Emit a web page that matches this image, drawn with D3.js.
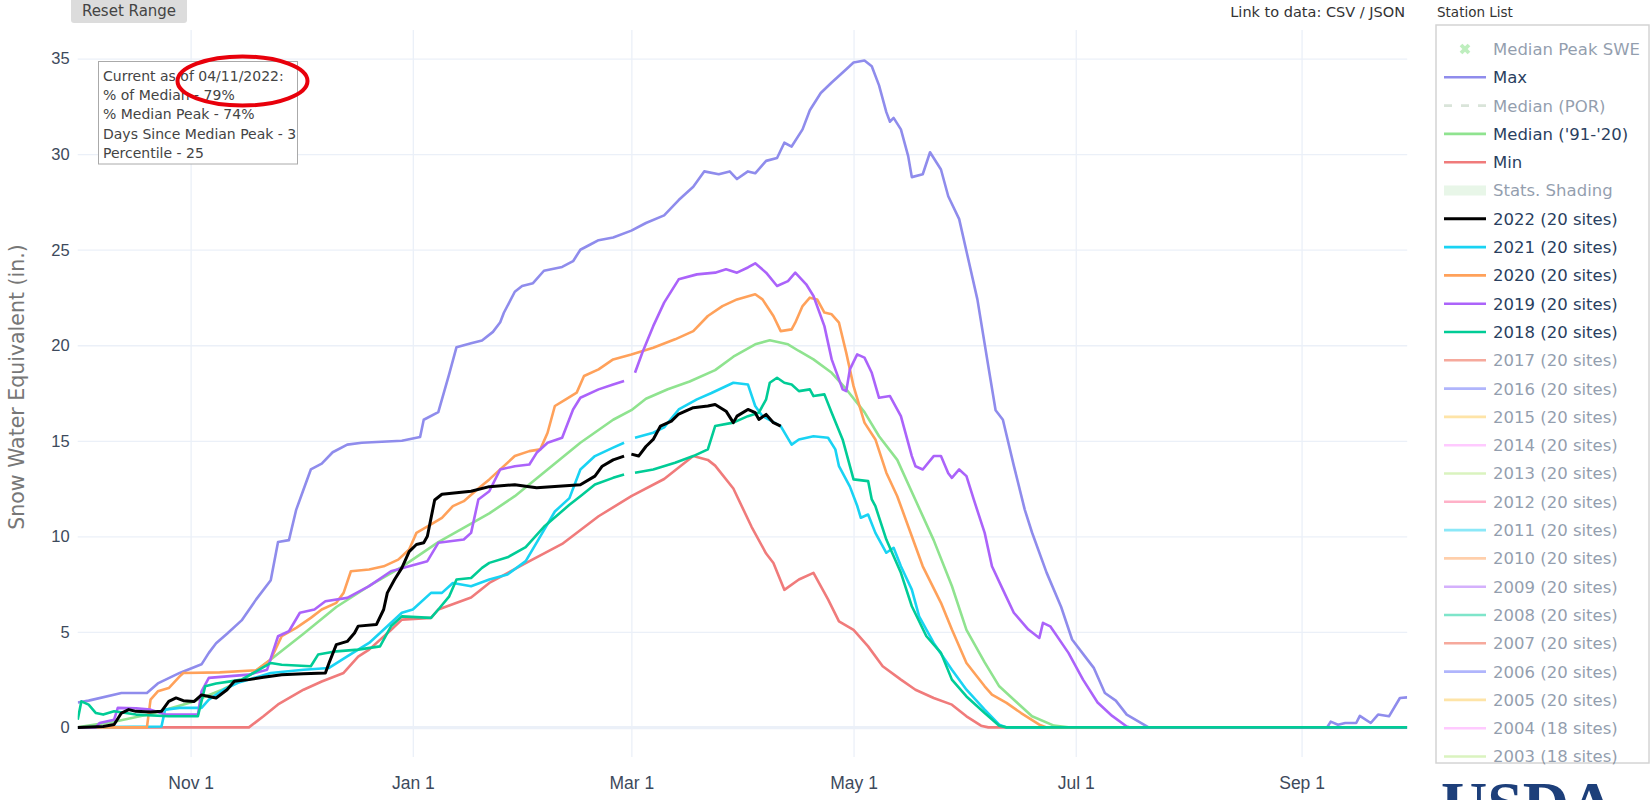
<!DOCTYPE html>
<html>
<head>
<meta charset="utf-8">
<script src="https://cdn.jsdelivr.net/npm/d3@7"></script>
<style>
  body { margin: 0; background: #fff; }
  svg { display: block; font-family: "DejaVu Sans", Verdana, sans-serif; }
</style>
</head>
<body>
<svg id="chart" width="1651" height="800"></svg>
<script>
// SWE (in.), generic water year Oct 1 - Sep 30 (axis has Feb 29)
const maxSwe = [["10-01",1.3],["10-04",1.4],["10-13",1.8],["10-20",1.8],["10-23",2.3],["10-29",2.85],["11-04",3.3],["11-06",3.9],["11-08",4.4],["11-11",4.9],["11-15",5.6],["11-19",6.7],["11-23",7.7],["11-25",9.7],["11-28",9.8],["11-30",11.4],["12-02",12.45],["12-04",13.5],["12-07",13.8],["12-10",14.4],["12-14",14.8],["12-18",14.9],["12-29",15.0],["01-03",15.2],["01-04",16.1],["01-08",16.5],["01-11",18.5],["01-13",19.9],["01-17",20.1],["01-20",20.25],["01-23",20.7],["01-25",21.2],["01-26",21.7],["01-29",22.8],["01-31",23.1],["02-03",23.25],["02-06",23.9],["02-11",24.1],["02-14",24.4],["02-16",25.0],["02-19",25.3],["02-21",25.5],["02-25",25.64],["03-01",26.0],["03-05",26.4],["03-10",26.8],["03-14",27.6],["03-18",28.3],["03-21",29.1],["03-25",28.95],["03-28",29.1],["03-30",28.7],["04-02",29.1],["04-04",29.0],["04-07",29.65],["04-10",29.8],["04-12",30.6],["04-14",30.4],["04-17",31.3],["04-19",32.3],["04-22",33.2],["04-25",33.75],["04-29",34.45],["05-01",34.8],["05-04",34.9],["05-06",34.6],["05-08",33.6],["05-10",32.2],["05-11",31.7],["05-12",31.9],["05-14",31.3],["05-16",29.9],["05-17",28.8],["05-20",28.95],["05-22",30.1],["05-25",29.2],["05-27",27.8],["05-30",26.6],["06-04",22.4],["06-07",18.9],["06-09",16.6],["06-11",16.1],["06-14",13.7],["06-17",11.4],["06-19",10.2],["06-23",8.1],["06-27",6.3],["06-30",4.6],["07-04",3.6],["07-06",3.1],["07-09",1.8],["07-12",1.4],["07-15",0.67],["07-21",0],["09-08",0],["09-09",0.3],["09-11",0.14],["09-13",0.23],["09-16",0.23],["09-17",0.6],["09-20",0.23],["09-22",0.67],["09-25",0.58],["09-28",1.54],["09-30",1.57]]

const medianSwe = [["10-01",0],["10-11",0.3],["10-21",0.7],["11-01",1.3],["11-10",2.0],["11-17",2.7],["11-23",3.55],["12-02",4.9],["12-11",6.3],["12-20",7.4],["12-29",8.4],["01-08",9.7],["01-22",11.2],["01-29",12.1],["02-07",13.5],["02-16",14.9],["02-25",16.1],["03-01",16.6],["03-05",17.2],["03-11",17.7],["03-17",18.1],["03-24",18.7],["03-29",19.4],["04-04",20.05],["04-08",20.26],["04-13",20.05],["04-16",19.7],["04-20",19.26],["04-25",18.56],["04-29",17.7],["05-04",16.5],["05-08",15.24],["05-13",14.0],["05-18",11.9],["05-23",9.8],["05-28",7.4],["06-01",5.1],["06-06",3.4],["06-10",2.15],["06-15",1.28],["06-19",0.58],["06-25",0.09],["06-29",0],["09-30",0]]

const minSwe = [["10-01",0],["11-17",0],["11-21",0.58],["11-25",1.2],["12-02",1.97],["12-07",2.4],["12-13",2.85],["12-17",3.7],["12-20",4.07],["12-26",5.1],["12-29",5.64],["01-06",5.73],["01-08",6.17],["01-17",6.8],["01-22",7.56],["02-01",8.6],["02-11",9.6],["02-21",11.05],["03-01",12.1],["03-10",13.0],["03-18",14.2],["03-22",14.0],["03-24",13.7],["03-29",12.5],["04-03",10.5],["04-07",9.1],["04-09",8.6],["04-12",7.2],["04-16",7.74],["04-20",8.09],["04-24",6.7],["04-27",5.55],["05-01",5.1],["05-05",4.24],["05-09",3.2],["05-14",2.5],["05-18",1.97],["05-23",1.54],["05-28",1.19],["06-01",0.58],["06-05",0.09],["06-07",0],["09-30",0]]

const wy2022 = [["10-01",0],["10-08",0.05],["10-11",0.15],["10-13",0.75],["10-15",0.93],["10-17",0.84],["10-21",0.8],["10-24",0.84],["10-26",1.36],["10-28",1.54],["10-30",1.4],["11-02",1.36],["11-04",1.7],["11-06",1.62],["11-08",1.54],["11-11",1.97],["11-13",2.41],["11-17",2.5],["11-21",2.62],["11-26",2.76],["12-02",2.81],["12-08",2.85],["12-09",3.37],["12-11",4.33],["12-14",4.5],["12-16",4.94],["12-17",5.3],["12-22",5.38],["12-24",6.17],["12-25",7.04],["12-27",7.74],["12-29",8.35],["12-31",9.2],["01-02",9.57],["01-04",9.66],["01-05",10.0],["01-07",11.9],["01-09",12.2],["01-17",12.36],["01-22",12.6],["01-29",12.7],["02-04",12.54],["02-16",12.7],["02-20",13.15],["02-22",13.67],["02-25",14.0],["02-28",14.2],["02-29",null],["03-01",14.3],["03-03",14.2],["03-05",14.7],["03-07",15.07],["03-09",15.77],["03-12",16.03],["03-14",16.4],["03-18",16.73],["03-22",16.82],["03-24",16.9],["03-27",16.55],["03-29",15.95],["03-30",16.29],["04-02",16.64],["04-04",16.47],["04-05",16.12],["04-07",16.38],["04-09",15.95],["04-11",15.77]]

const wy2021 = [["10-01",0],["10-24",0.05],["10-25",0.93],["10-29",1.02],["11-04",1.02],["11-06",1.45],["11-10",1.97],["11-14",2.33],["11-17",2.5],["11-23",2.85],["12-02",3.02],["12-09",3.11],["12-14",3.72],["12-20",4.42],["12-25",5.29],["12-29",6.0],["01-01",6.17],["01-06",7.04],["01-09",7.04],["01-12",7.56],["01-17",7.39],["01-22",7.74],["01-27",8.0],["02-01",8.7],["02-05",10.0],["02-09",11.3],["02-13",12.0],["02-16",13.5],["02-20",14.2],["02-25",14.64],["02-28",14.9],["02-29",null],["03-02",15.16],["03-07",15.42],["03-10",15.7],["03-14",16.64],["03-19",17.17],["03-23",17.5],["03-29",18.04],["04-02",17.95],["04-04",16.82],["04-06",16.29],["04-11",15.77],["04-14",14.8],["04-16",15.07],["04-20",15.24],["04-24",15.16],["04-26",14.55],["04-27",13.67],["04-30",12.6],["05-02",11.6],["05-03",10.97],["05-05",11.14],["05-07",10.18],["05-10",9.14],["05-12",9.4],["05-14",8.43],["05-17",7.21],["05-19",5.81],["05-23",4.42],["05-28",3.02],["06-01",1.97],["06-06",0.93],["06-10",0.14],["06-12",0],["09-30",0]]

const wy2020 = [["10-01",0],["10-20",0],["10-21",1.45],["10-23",1.89],["10-26",2.06],["10-29",2.67],["10-30",2.85],["11-09",2.88],["11-19",2.99],["11-23",3.55],["11-26",4.77],["11-30",5.21],["12-04",5.73],["12-07",6.17],["12-11",6.52],["12-13",7.04],["12-15",8.17],["12-20",8.26],["12-24",8.43],["12-28",8.78],["12-31",9.31],["01-02",10.18],["01-06",10.62],["01-09",10.97],["01-12",11.58],["01-15",11.84],["01-19",12.5],["01-22",12.98],["01-29",14.2],["02-02",14.46],["02-05",14.55],["02-07",15.42],["02-09",16.82],["02-12",17.17],["02-15",17.52],["02-17",18.39],["02-21",18.74],["02-25",19.26],["03-01",19.52],["03-07",19.87],["03-13",20.31],["03-18",20.74],["03-22",21.53],["03-26",22.05],["03-30",22.4],["04-04",22.67],["04-06",22.4],["04-09",21.53],["04-11",20.74],["04-14",20.83],["04-15",21.18],["04-17",22.05],["04-19",22.49],["04-21",22.4],["04-23",21.71],["04-25",21.62],["04-27",21.18],["04-29",19.6],["05-01",17.86],["05-04",15.95],["05-07",15.07],["05-10",13.33],["05-13",12.1],["05-16",10.53],["05-20",8.43],["05-25",6.52],["05-28",5.12],["06-01",3.37],["06-06",2.15],["06-08",1.71],["06-12",1.28],["06-16",0.75],["06-21",0.14],["06-23",0],["09-30",0]]

const wy2019 = [["10-01",0],["10-06",0],["10-07",0.23],["10-11",0.4],["10-12",1.02],["10-17",1.0],["10-21",0.93],["10-25",0.67],["11-03",0.67],["11-04",1.89],["11-06",2.59],["11-11",2.67],["11-17",2.76],["11-22",3.02],["11-25",4.77],["11-28",5.03],["12-01",6.0],["12-05",6.17],["12-08",6.6],["12-14",6.78],["12-20",7.39],["12-26",8.17],["12-31",8.43],["01-05",8.7],["01-08",9.66],["01-15",9.83],["01-17",10.18],["01-19",11.93],["01-22",12.36],["01-25",13.5],["01-29",13.67],["02-02",13.76],["02-04",14.37],["02-07",14.9],["02-11",15.16],["02-14",16.64],["02-16",17.25],["02-21",17.69],["02-25",17.95],["02-28",18.13],["02-29",null],["03-02",18.56],["03-04",19.61],["03-07",21.0],["03-10",22.23],["03-14",23.45],["03-19",23.71],["03-24",23.8],["03-27",23.98],["03-30",23.8],["04-02",24.07],["04-04",24.29],["04-07",23.8],["04-10",23.1],["04-13",23.36],["04-15",23.8],["04-18",23.19],["04-20",22.58],["04-23",21.0],["04-25",19.26],["04-28",17.69],["04-29",17.6],["04-30",18.74],["05-02",19.52],["05-04",19.35],["05-06",18.56],["05-08",17.25],["05-11",17.34],["05-14",16.29],["05-17",14.2],["05-18",13.67],["05-20",13.5],["05-23",14.2],["05-25",14.2],["05-27",13.3],["05-28",13.06],["05-30",13.5],["06-01",13.15],["06-03",11.93],["06-06",10.18],["06-08",8.43],["06-11",7.21],["06-14",6.0],["06-18",5.12],["06-21",4.68],["06-22",5.47],["06-24",5.29],["06-29",3.9],["07-03",2.5],["07-07",1.3],["07-11",0.6],["07-15",0.05],["07-16",0],["09-30",0]]

const wy2018 = [["10-01",0.4],["10-02",1.36],["10-04",1.19],["10-06",0.75],["10-08",0.67],["10-11",0.84],["10-17",0.67],["10-26",0.58],["11-03",0.58],["11-05",2.15],["11-08",2.3],["11-12",2.41],["11-15",2.5],["11-19",2.93],["11-23",3.37],["11-26",3.28],["12-04",3.2],["12-06",3.81],["12-11",3.98],["12-17",4.07],["12-23",4.24],["12-26",5.29],["12-29",5.81],["01-06",5.73],["01-08",6.17],["01-11",6.86],["01-13",7.74],["01-17",7.82],["01-20",8.35],["01-22",8.61],["01-27",8.9],["02-01",9.44],["02-06",10.5],["02-13",11.65],["02-16",12.1],["02-20",12.71],["02-25",13.06],["02-28",13.24],["02-29",null],["03-02",13.33],["03-07",13.5],["03-13",13.85],["03-18",14.2],["03-22",14.55],["03-24",15.77],["03-29",15.95],["04-02",16.29],["04-05",16.47],["04-07",17.17],["04-08",18.04],["04-10",18.3],["04-12",18.04],["04-14",17.95],["04-16",17.6],["04-19",17.69],["04-20",17.34],["04-23",17.43],["04-25",16.47],["04-28",15.07],["05-01",12.98],["05-05",12.89],["05-06",11.93],["05-07",11.58],["05-10",9.83],["05-14",8.09],["05-17",6.34],["05-21",4.77],["05-25",3.9],["05-28",2.5],["06-01",1.62],["06-06",0.75],["06-10",0.09],["06-12",0],["09-30",0]]

const yTicks = [0, 5, 10, 15, 20, 25, 30, 35]

const infoLines = ["Current as of 04/11/2022:", "% of Median - 79%", "% Median Peak - 74%", "Days Since Median Peak - 3", "Percentile - 25"]

const legendStats = ["Median Peak SWE", "Max", "Median (POR)", "Median ('91-'20)", "Min", "Stats. Shading"]
const legendYears = [2022, 2021, 2020, 2019, 2018, 2017, 2016, 2015, 2014, 2013, 2012, 2011, 2010, 2009, 2008, 2007, 2006, 2005, 2004, 2003]
const siteCounts = [20, 20, 20, 20, 20, 20, 20, 20, 20, 20, 20, 20, 20, 20, 20, 20, 20, 20, 18, 18]
const shownYears = [2022, 2021, 2020, 2019, 2018]

// styles
const colorway = ['#636efa', '#EF553B', '#00cc96', '#ab63fa', '#FFA15A', '#19d3f3', '#FF6692', '#B6E880', '#FF97FF', '#FECB52']
const yearColor = (yr) => yr == 2022 ? '#000' : colorway[(yr - 2006 + 100) % 10]
const statColor = { 'Max': '#8f8cec', "Median ('91-'20)": '#8fe38f', 'Min': '#f07b7b' }

const svg = d3.select('#chart')
const plot = { left: 77.7, right: 1407.2, top: 30, bottom: 757 }

const parseDay = (md) => d3.utcParse('%Y-%m-%d')((+md.slice(0, 2) >= 10 ? '1999-' : '2000-') + md)

const x = d3.scaleUtc()
  .domain([parseDay('10-01'), parseDay('09-30')])
  .range([plot.left, plot.right])
const y = d3.scaleLinear()
  .domain([-1.55, 36.5])
  .range([plot.bottom, plot.top])

const tickColor = '#3d4a5c'

// y grid + labels
const yAxis = svg.append('g')
  .attr('transform', `translate(${plot.left},0)`)
  .call(d3.axisLeft(y).tickValues(yTicks).tickSize(-(plot.right - plot.left)).tickPadding(8))
yAxis.select('.domain').remove()
yAxis.selectAll('.tick line')
  .attr('stroke', '#EBF0F8')
  .attr('stroke-width', (d) => d == 0 ? 2.6 : 1.3)
yAxis.selectAll('.tick text')
  .attr('fill', tickColor)
  .style('font-size', '16.5px')

// x grid + labels
const xAxis = svg.append('g')
  .attr('transform', `translate(0,${plot.bottom})`)
  .call(d3.axisBottom(x)
    .ticks(d3.utcMonth.every(2))
    .tickFormat(d3.utcFormat('%b %-d'))
    .tickSize(-(plot.bottom - plot.top))
    .tickPadding(20))
xAxis.select('.domain').remove()
xAxis.selectAll('.tick line').attr('stroke', '#EBF0F8').attr('stroke-width', 1.3)
xAxis.selectAll('.tick text')
  .attr('fill', tickColor)
  .style('font-size', '17.5px')

// redraw zero line above vertical grid
svg.append('line')
  .attr('x1', plot.left).attr('x2', plot.right)
  .attr('y1', y(0)).attr('y2', y(0))
  .attr('stroke', '#EBF0F8').attr('stroke-width', 2.6)

svg.append('text')
  .attr('transform', `translate(24,${(y(0) + y(35)) / 2 - 6}) rotate(-90)`)
  .attr('text-anchor', 'middle')
  .attr('fill', '#777')
  .style('font-size', '20.5px')
  .text('Snow Water Equivalent (in.)')

svg.append('clipPath').attr('id', 'clip')
  .append('rect')
  .attr('x', plot.left).attr('y', plot.top)
  .attr('width', plot.right - plot.left).attr('height', plot.bottom - plot.top)

const line = d3.line()
  .defined((d) => d[1] != null)
  .x((d) => x(parseDay(d[0])))
  .y((d) => y(d[1]))

const series = [
  { name: 'Max', values: maxSwe, color: statColor['Max'], width: 2.6 },
  { name: "Median ('91-'20)", values: medianSwe, color: statColor["Median ('91-'20)"], width: 2.6 },
  { name: 'Min', values: minSwe, color: statColor['Min'], width: 2.6 },
  { name: '2021', values: wy2021, color: yearColor(2021), width: 2.6 },
  { name: '2020', values: wy2020, color: yearColor(2020), width: 2.6 },
  { name: '2019', values: wy2019, color: yearColor(2019), width: 2.6 },
  { name: '2018', values: wy2018, color: yearColor(2018), width: 2.6 },
  { name: '2022', values: wy2022, color: yearColor(2022), width: 3 }
]

svg.append('g')
  .attr('clip-path', 'url(#clip)')
  .selectAll('path')
  .data(series)
  .join('path')
  .attr('d', (d) => line(d.values))
  .attr('fill', 'none')
  .attr('stroke', (d) => d.color)
  .attr('stroke-width', (d) => d.width)
  .attr('stroke-linejoin', 'round')

// info annotation
const info = svg.append('g')
info.append('rect')
  .attr('x', 98.5).attr('y', 61.5)
  .attr('width', 199).attr('height', 102.5)
  .attr('fill', '#fff')
  .attr('stroke', '#aaa')
info.selectAll('text')
  .data(infoLines)
  .join('text')
  .attr('x', 103)
  .attr('y', (d, i) => 81 + i * 19.2)
  .attr('fill', '#444')
  .style('font-size', '14px')
  .text((d) => d)

// red marker drawn on the screenshot
svg.append('ellipse')
  .attr('cx', 242.5).attr('cy', 81)
  .attr('rx', 65).attr('ry', 24.5)
  .attr('fill', 'none')
  .attr('stroke', '#e8000b')
  .attr('stroke-width', 4)

// reset range button
svg.append('rect')
  .attr('x', 71).attr('y', -6)
  .attr('width', 116).attr('height', 29)
  .attr('rx', 3)
  .attr('fill', '#dcdcdc')
svg.append('text')
  .attr('x', 129).attr('y', 15.5)
  .attr('text-anchor', 'middle')
  .attr('fill', '#444')
  .style('font-size', '15px')
  .text('Reset Range')

svg.append('text')
  .attr('x', 1405).attr('y', 17)
  .attr('text-anchor', 'end')
  .attr('fill', '#333')
  .style('font-size', '14.5px')
  .text('Link to data: CSV / JSON')

svg.append('text')
  .attr('x', 1437).attr('y', 17)
  .attr('fill', '#333')
  .style('font-size', '13.5px')
  .text('Station List')

// legend
const legendItems = legendStats.map((name) => ({
  name,
  shown: !!statColor[name],
  kind: name == 'Median Peak SWE' ? 'marker' : name == 'Median (POR)' ? 'dash' : name == 'Stats. Shading' ? 'band' : 'line',
  color: statColor[name] || (name == 'Median Peak SWE' ? '#7fdf7f' : name == 'Median (POR)' ? '#b4cab4' : '#d2efd2')
})).concat(legendYears.map((yr, i) => ({
  name: `${yr} (${siteCounts[i]} sites)`,
  shown: shownYears.includes(yr),
  kind: 'line',
  color: yearColor(yr)
})))

const legend = svg.append('g').attr('transform', 'translate(1436,25)')
legend.append('rect')
  .attr('x', 0).attr('y', 0)
  .attr('width', 213).attr('height', 738)
  .attr('fill', '#fff')
  .attr('stroke', '#d4d4d4')
  .attr('stroke-width', 1.5)

const item = legend.selectAll('.item')
  .data(legendItems)
  .join('g')
  .attr('class', 'item')
  .attr('transform', (d, i) => `translate(0,${24 + i * 28.3})`)
  .attr('opacity', (d) => d.shown ? 1 : 0.5)

item.filter((d) => d.kind == 'line').append('line')
  .attr('x1', 8).attr('x2', 50)
  .attr('stroke', (d) => d.color)
  .attr('stroke-width', (d) => d.name.startsWith('2022') ? 3 : 2.6)
item.filter((d) => d.kind == 'dash').append('line')
  .attr('x1', 8).attr('x2', 50)
  .attr('stroke', (d) => d.color)
  .attr('stroke-width', 2.6)
  .attr('stroke-dasharray', '8,9')
item.filter((d) => d.kind == 'band').append('rect')
  .attr('x', 8).attr('y', -5).attr('width', 42).attr('height', 10)
  .attr('fill', (d) => d.color)
item.filter((d) => d.kind == 'marker').append('path')
  .attr('transform', 'translate(29,0) rotate(45)')
  .attr('d', d3.symbol(d3.symbolCross, 70))
  .attr('fill', (d) => d.color)

item.append('text')
  .attr('x', 57)
  .attr('dy', '0.36em')
  .attr('fill', '#2a3f5f')
  .style('font-size', '16.5px')
  .text((d) => d.name)

// logo peeking at the bottom (cut by the screenshot edge, as in the original)
svg.append('text')
  .attr('x', 1441).attr('y', 826)
  .attr('fill', '#1d3f7a')
  .style('font-family', '"Liberation Serif", "DejaVu Serif", serif')
  .style('font-weight', 'bold')
  .style('font-size', '64px')
  .text('USDA')
</script>
</body>
</html>
